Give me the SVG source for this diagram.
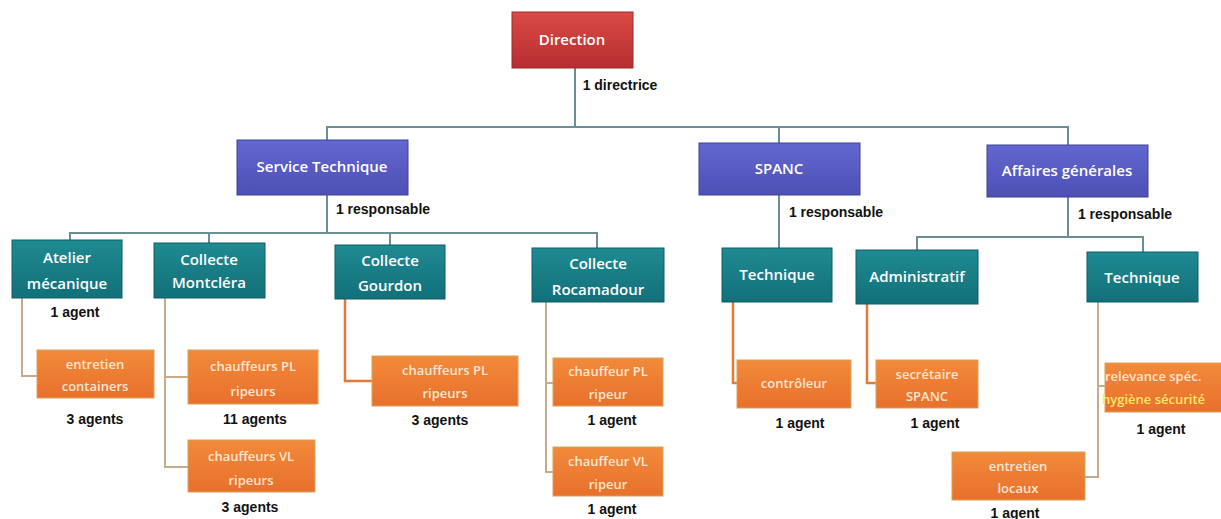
<svg xmlns="http://www.w3.org/2000/svg" width="1221" height="519" viewBox="0 0 1221 519">
<defs>
<linearGradient id="gRed" x1="0" y1="0" x2="0" y2="1"><stop offset="0" stop-color="#d94a45"/><stop offset="1" stop-color="#b72d2f"/></linearGradient>
<linearGradient id="gBlue" x1="0" y1="0" x2="0" y2="1"><stop offset="0" stop-color="#6267cf"/><stop offset="1" stop-color="#4d50b5"/></linearGradient>
<linearGradient id="gTeal" x1="0" y1="0" x2="0" y2="1"><stop offset="0" stop-color="#1f8a91"/><stop offset="1" stop-color="#12707a"/></linearGradient>
<linearGradient id="gOr" x1="0" y1="0" x2="0" y2="1"><stop offset="0" stop-color="#f28a3a"/><stop offset="1" stop-color="#e8702c"/></linearGradient>
<style>
.red{fill:url(#gRed);stroke:#9e2a2a;stroke-width:1}
.blue{fill:url(#gBlue);stroke:#3f4296;stroke-width:1}
.teal{fill:url(#gTeal);stroke:#0e5f66;stroke-width:1}
.or{fill:url(#gOr);stroke:#d8a25a;stroke-width:1}
.bt{font-family:"Open Sans","Liberation Sans",sans-serif;font-size:15px;font-weight:600;fill:#ffffff;text-anchor:middle}
.ot{font-family:"Open Sans","Liberation Sans",sans-serif;font-size:13px;font-weight:600;fill:#fbe6d2;text-anchor:middle}
.lb{font-family:"Liberation Sans",Arial,sans-serif;font-size:14px;font-weight:bold;fill:#111111;text-anchor:middle}
.c1{fill:none;stroke:#6b8e94;stroke-width:2}
.c2{fill:none;stroke:#e07a3c;stroke-width:2.5}
.c3{fill:none;stroke:#c9a98a;stroke-width:2}
</style>
</defs>
<rect width="1221" height="519" fill="#ffffff"/>
<g id="connectors">
<path class="c1" d="M575 68 V127 M327 140 V127 H1068 V145 M779 127 V143"/>
<path class="c1" d="M327 195 V233 M70 240 V233 H597 V248 M209 233 V243 M390 233 V245"/>
<path class="c1" d="M779 195 V248"/>
<path class="c1" d="M1068 197 V237 M917 250 V237 H1143 V252"/>
<path class="c3" d="M22 298 V376 H37"/>
<path class="c3" d="M165 298 V467 H188 M165 377 H188"/>
<path class="c2" d="M345 299 V381 H372"/>
<path class="c3" d="M546 302 V472 H553 M546 383 H553"/>
<path class="c2" d="M733 302 V383 H737"/>
<path class="c2" d="M867 304 V383 H876"/>
<path class="c3" d="M1098 302 V477 H1085 M1098 386 H1105"/>
</g>
<g id="n-direction"><rect class="red" x="512" y="12" width="121" height="56"/><text class="bt" x="572" y="45">Direction</text></g>
<text class="lb" x="620" y="90">1 directrice</text>
<g id="n-service-technique"><rect class="blue" x="237" y="140" width="171" height="55"/><text class="bt" x="322" y="172">Service Technique</text></g>
<text class="lb" x="383" y="214">1 responsable</text>
<g id="n-spanc"><rect class="blue" x="699" y="143" width="161" height="52"/><text class="bt" x="779" y="174">SPANC</text></g>
<text class="lb" x="836" y="217">1 responsable</text>
<g id="n-affaires"><rect class="blue" x="987" y="145" width="161" height="52"/><text class="bt" x="1067" y="176">Affaires générales</text></g>
<text class="lb" x="1125" y="219">1 responsable</text>
<g id="n-atelier"><rect class="teal" x="12" y="240" width="110" height="58"/><text class="bt" x="67" y="263">Atelier</text><text class="bt" x="67" y="289">mécanique</text></g>
<text class="lb" x="75" y="317">1 agent</text>
<g id="n-montclera"><rect class="teal" x="154" y="243" width="111" height="55"/><text class="bt" x="209" y="265">Collecte</text><text class="bt" x="209" y="288">Montcléra</text></g>
<g id="n-gourdon"><rect class="teal" x="335" y="245" width="110" height="54"/><text class="bt" x="390" y="266">Collecte</text><text class="bt" x="390" y="291">Gourdon</text></g>
<g id="n-rocamadour"><rect class="teal" x="532" y="248" width="132" height="54"/><text class="bt" x="598" y="269">Collecte</text><text class="bt" x="598" y="295">Rocamadour</text></g>
<g id="n-spanc-tech"><rect class="teal" x="722" y="248" width="110" height="54"/><text class="bt" x="777" y="280">Technique</text></g>
<g id="n-admin"><rect class="teal" x="856" y="250" width="122" height="54"/><text class="bt" x="917" y="282">Administratif</text></g>
<g id="n-ag-tech"><rect class="teal" x="1087" y="252" width="111" height="50"/><text class="bt" x="1142" y="283">Technique</text></g>
<g id="n-entretien-containers"><rect class="or" x="37" y="350" width="117" height="48"/><text class="ot" x="95" y="369">entretien</text><text class="ot" x="95" y="391">containers</text></g>
<text class="lb" x="95" y="424">3 agents</text>
<g id="n-pl-montclera"><rect class="or" x="188" y="350" width="130" height="54"/><text class="ot" x="253" y="371">chauffeurs PL</text><text class="ot" x="253" y="396">ripeurs</text></g>
<text class="lb" x="255" y="424">11 agents</text>
<g id="n-vl-montclera"><rect class="or" x="188" y="440" width="127" height="52"/><text class="ot" x="251" y="461">chauffeurs VL</text><text class="ot" x="251" y="485">ripeurs</text></g>
<text class="lb" x="250" y="512">3 agents</text>
<g id="n-pl-gourdon"><rect class="or" x="372" y="356" width="146" height="50"/><text class="ot" x="445" y="375">chauffeurs PL</text><text class="ot" x="445" y="398">ripeurs</text></g>
<text class="lb" x="440" y="425">3 agents</text>
<g id="n-pl-roca"><rect class="or" x="553" y="358" width="110" height="48"/><text class="ot" x="608" y="376">chauffeur PL</text><text class="ot" x="608" y="399">ripeur</text></g>
<text class="lb" x="612" y="425">1 agent</text>
<g id="n-vl-roca"><rect class="or" x="553" y="447" width="110" height="49"/><text class="ot" x="608" y="466">chauffeur VL</text><text class="ot" x="608" y="489">ripeur</text></g>
<text class="lb" x="612" y="514">1 agent</text>
<g id="n-controleur"><rect class="or" x="737" y="360" width="114" height="48"/><text class="ot" x="794" y="388">contrôleur</text></g>
<text class="lb" x="800" y="428">1 agent</text>
<g id="n-secretaire"><rect class="or" x="876" y="360" width="102" height="48"/><text class="ot" x="927" y="379">secrétaire</text><text class="ot" x="927" y="401">SPANC</text></g>
<text class="lb" x="935" y="428">1 agent</text>
<g id="n-hygiene"><rect class="or" x="1105" y="363" width="125" height="49"/><text class="ot" x="1105" y="381" style="text-anchor:start">relevance spéc.</text><text class="ot" x="1102" y="404" style="text-anchor:start;fill:#ffe86a">hygiène sécurité</text></g>
<text class="lb" x="1161" y="434">1 agent</text>
<g id="n-entretien-locaux"><rect class="or" x="952" y="452" width="133" height="48"/><text class="ot" x="1018" y="471">entretien</text><text class="ot" x="1018" y="493">locaux</text></g>
<text class="lb" x="1015" y="518">1 agent</text>
</svg>
